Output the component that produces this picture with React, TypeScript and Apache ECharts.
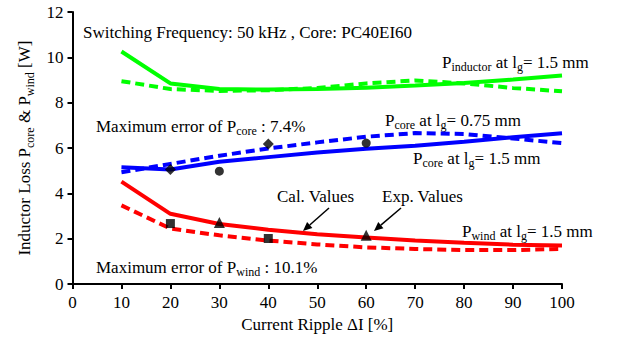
import React, { useEffect, useRef } from "react";
import * as echarts from "echarts";

const ripple = [10, 20, 30, 40, 50, 60, 70, 80, 90, 100];
const inductor15 = [10.26, 8.85, 8.6, 8.58, 8.6, 8.66, 8.76, 8.87, 9.02, 9.2];
const inductor075 = [8.95, 8.6, 8.52, 8.55, 8.65, 8.85, 8.98, 8.85, 8.65, 8.5];
const core15 = [5.15, 5.05, 5.4, 5.6, 5.8, 5.97, 6.1, 6.28, 6.48, 6.65];
const core075 = [4.93, 5.3, 5.66, 5.98, 6.25, 6.5, 6.66, 6.62, 6.42, 6.22];
const wind15 = [4.52, 3.1, 2.65, 2.4, 2.2, 2.05, 1.92, 1.82, 1.74, 1.7];
const wind075 = [3.47, 2.45, 2.15, 1.92, 1.75, 1.62, 1.55, 1.5, 1.5, 1.55];

const expDiamond = [[20, 5.05], [40, 6.18]];
const expCircle = [[30, 4.98], [60, 6.22]];
const expSquare = [[20, 2.67], [40, 2.01]];
const expTriangle = [[30, 2.72], [60, 2.15]];

const xTicks = { min: 0, max: 100, interval: 10 };
const yTicks = { min: 0, max: 12, interval: 2 };

const FONT = "Liberation Serif";
const FS = 17;

const rich = {
  n: { fontFamily: FONT, fontSize: FS, lineHeight: 22, color: "#000" },
  i: { fontFamily: FONT, fontSize: FS, lineHeight: 22, color: "#000" },
  s: { fontFamily: FONT, fontSize: 12, lineHeight: 12, color: "#000", verticalAlign: "bottom" },
  g: { fontFamily: FONT, fontSize: 12, lineHeight: 12, color: "#000", verticalAlign: "bottom" },
};

function pair(xs: number[], ys: number[]) {
  return xs.map((x, k) => [x, ys[k]]);
}

function label(x: number, yCenter: number, text: string) {
  return {
    type: "text",
    x,
    y: yCenter - 11,
    style: { text, rich, verticalAlign: "top", align: "left", fill: "#000", fontFamily: FONT, fontSize: FS },
    silent: true,
  };
}

function arrow(x1: number, y1: number, x2: number, y2: number) {
  const dx = x2 - x1;
  const dy = y2 - y1;
  const len = Math.sqrt(dx * dx + dy * dy);
  const ux = dx / len;
  const uy = dy / len;
  const hl = 9;
  const hw = 4;
  const bx = x2 - ux * hl;
  const by = y2 - uy * hl;
  return [
    { type: "line", shape: { x1, y1, x2: bx, y2: by }, style: { stroke: "#000", lineWidth: 1.5 }, silent: true },
    {
      type: "polygon",
      shape: { points: [[x2, y2], [bx - uy * hw, by + ux * hw], [bx + uy * hw, by - ux * hw]] },
      style: { fill: "#000" },
      silent: true,
    },
  ];
}

function lineSeries(name: string, ys: number[], color: string, dashed: boolean) {
  return {
    name,
    type: "line",
    data: pair(ripple, ys),
    showSymbol: false,
    lineStyle: { color, width: 4, type: dashed ? [9, 5] : "solid" },
    z: 2,
  };
}

function markSeries(name: string, data: number[][], symbol: string, size: number) {
  return {
    name,
    type: "scatter",
    data,
    symbol,
    symbolSize: size,
    itemStyle: { color: "#000" },
    z: 5,
  };
}

const css = "body{margin:0}#chart text,#chart tspan{font-family:'Liberation Serif' !important;}";

export default function App() {
  const ref = useRef<HTMLDivElement>(null);
  useEffect(() => {
    document.body.style.margin = "0";
    if (!ref.current) return;
    const chart = echarts.init(ref.current, null, { renderer: "svg" });
    const axisLabel = { color: "#000", fontFamily: FONT, fontSize: FS };
    const axisCommon = {
      axisLine: { show: true, lineStyle: { color: "#000", width: 2 } },
      axisTick: { show: true, inside: false, length: 5, lineStyle: { color: "#000", width: 2 } },
      splitLine: { show: false },
      nameTextStyle: { color: "#000", fontFamily: FONT, fontSize: FS, rich },
    };
    chart.setOption({
      animation: false,
      grid: { left: 72.5, right: 56, top: 12, bottom: 52, containLabel: false },
      xAxis: {
        type: "value",
        ...xTicks,
        ...axisCommon,
        axisLabel: { ...axisLabel, margin: 10 },
        name: "{n|Current Ripple Δ}{i|I}{n| [%]}",
        nameLocation: "middle",
        nameGap: 28,
      },
      yAxis: {
        type: "value",
        ...yTicks,
        ...axisCommon,
        axisLabel: { ...axisLabel, margin: 9 },
        name: "{n|Inductor Loss }{i|P}{s|core}{n| & }{i|P}{s|wind}{n| [W]}",
        nameLocation: "middle",
        nameGap: 36,
      },
      series: [
        lineSeries("P_inductor 1.5mm", inductor15, "#00ff00", false),
        lineSeries("P_inductor 0.75mm", inductor075, "#00ff00", true),
        lineSeries("P_core 1.5mm", core15, "#0000ff", false),
        lineSeries("P_core 0.75mm", core075, "#0000ff", true),
        lineSeries("P_wind 1.5mm", wind15, "#ff0000", false),
        lineSeries("P_wind 0.75mm", wind075, "#ff0000", true),
        markSeries("Exp diamond", expDiamond, "diamond", 11),
        markSeries("Exp circle", expCircle, "circle", 9),
        markSeries("Exp square", expSquare, "rect", 9),
        markSeries("Exp triangle", expTriangle, "triangle", 11),
      ],
      graphic: [
        label(83, 32, "{n|Switching Frequency: 50 kHz , Core: PC40EI60}"),
        label(442, 62, "{i|P}{s|inductor}{i| at }{i|l}{g|g}{n|= 1.5 mm}"),
        label(385, 120, "{i|P}{s|core}{i| at }{i|l}{g|g}{n|= 0.75 mm}"),
        label(413, 158, "{i|P}{s|core}{i| at }{i|l}{g|g}{n|= 1.5 mm}"),
        label(96, 126, "{n|Maximum error of }{i|P}{s|core}{i| : }{n|7.4%}"),
        label(277, 196, "{i|Cal. Values}"),
        label(382, 196, "{i|Exp. Values}"),
        label(462, 231, "{i|P}{s|wind}{i| at }{i|l}{g|g}{n|= 1.5 mm}"),
        label(96, 267, "{n|Maximum error of }{i|P}{s|wind}{i| : }{n|10.1%}"),
        ...arrow(329, 208, 303, 231),
        ...arrow(401, 208, 374, 231),
      ],
    });
    return () => chart.dispose();
  }, []);
  return (
    <>
      <style>{css}</style>
      <div id="chart" ref={ref} style={{ width: 618, height: 338 }} />
    </>
  );
}
